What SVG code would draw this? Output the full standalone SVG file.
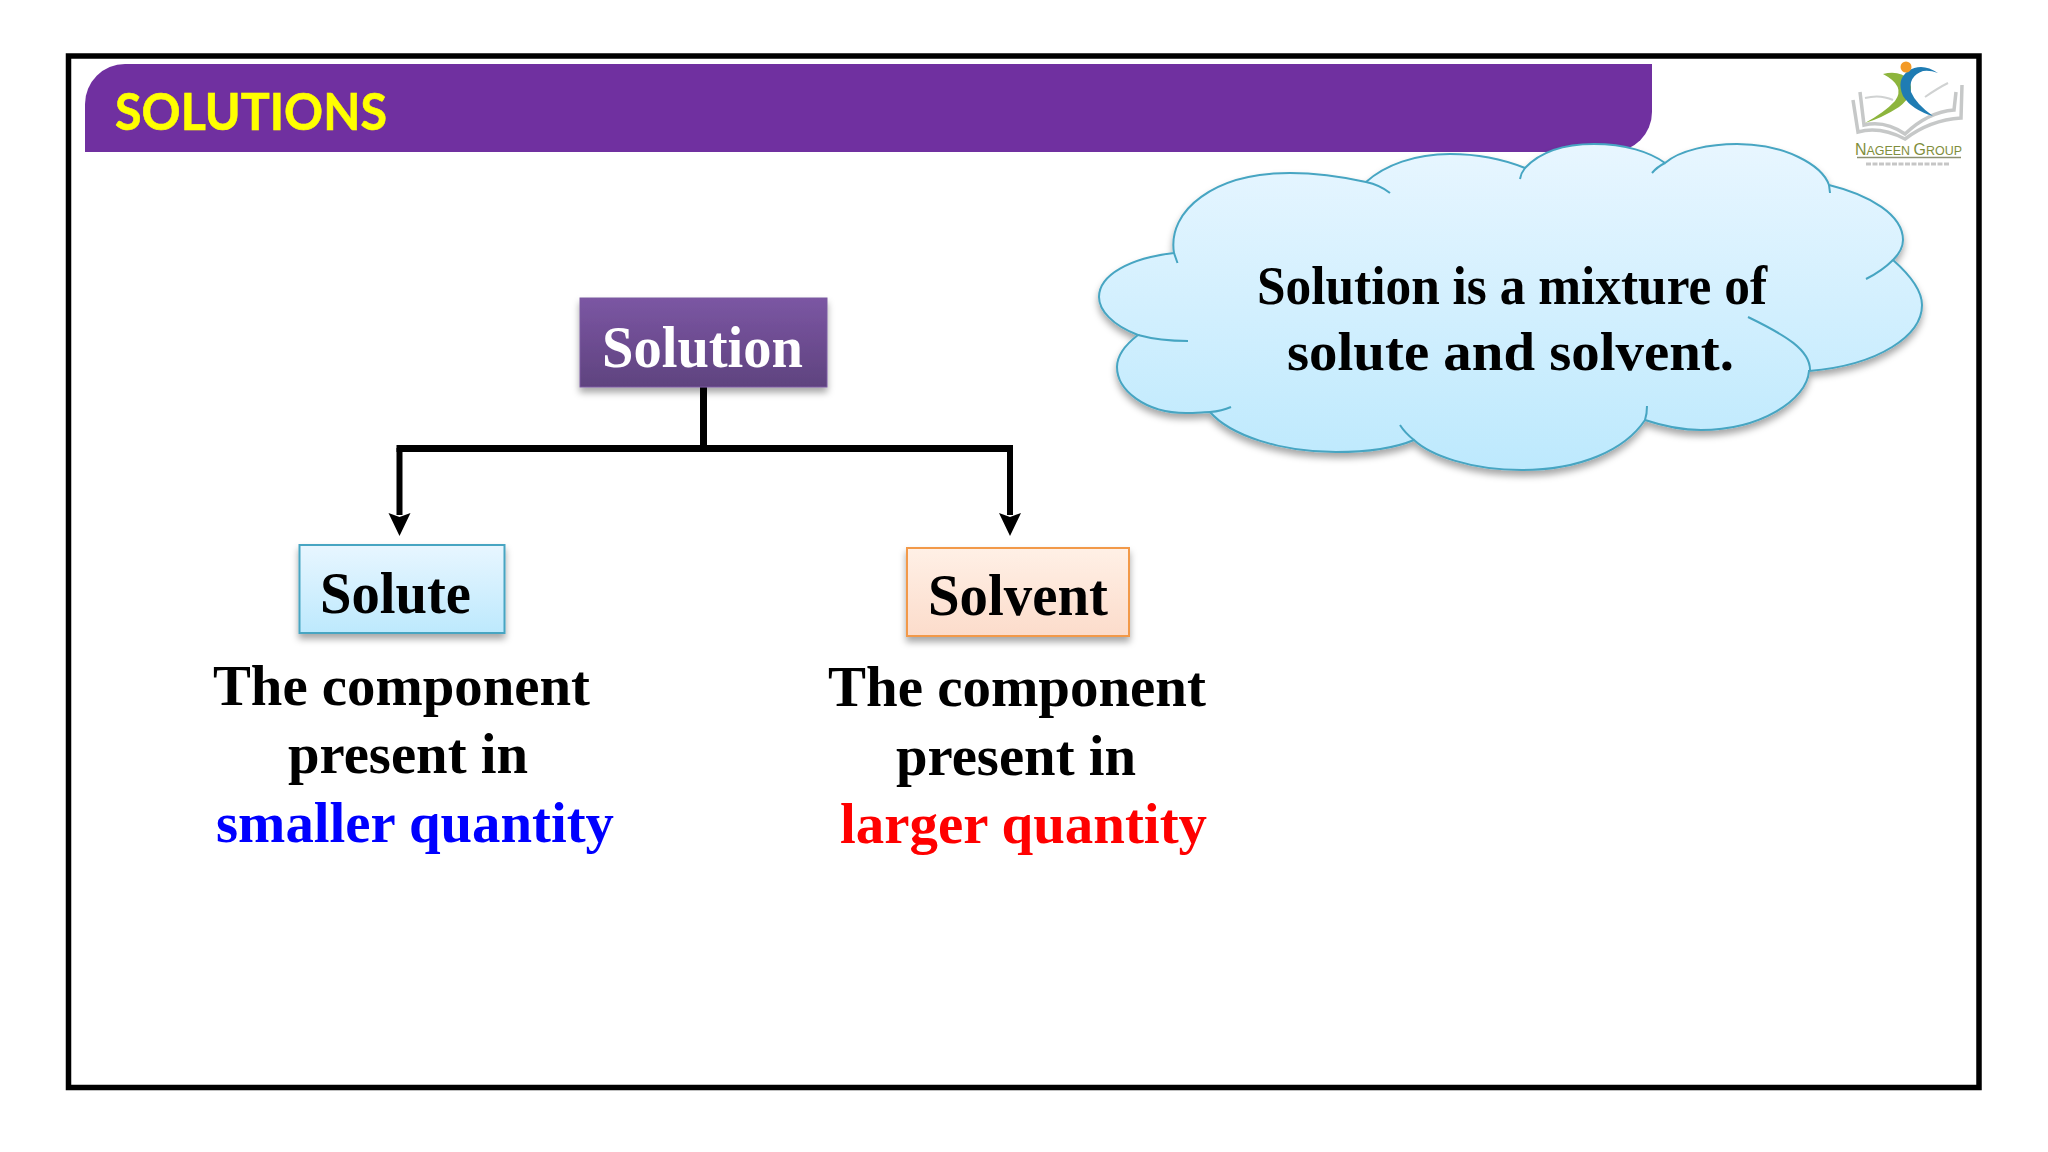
<svg xmlns="http://www.w3.org/2000/svg" width="2048" height="1152" viewBox="0 0 2048 1152">
<style>
.s{font-family:"Liberation Serif","Times New Roman",serif;font-weight:700;fill:#000}
.t{font-size:57px}
.n{font-size:59px}
.c{font-size:54px}
.conn{fill:none;stroke:#000;stroke-width:7}
.drop{fill:none;stroke:#000;stroke-width:6;marker-end:url(#ah)}
.hook{fill:none;stroke:#46a5c2;stroke-width:2}
.book{fill:none;stroke:#c6c8c8;stroke-width:3.500}
</style>
<defs>
<linearGradient id="blue" x1="0" y1="0" x2="0" y2="1"><stop offset="0" stop-color="#e8f6ff"/><stop offset="1" stop-color="#bde9fd"/></linearGradient>
<linearGradient id="peach" x1="0" y1="0" x2="0" y2="1"><stop offset="0" stop-color="#fff0e6"/><stop offset="1" stop-color="#fcdccb"/></linearGradient>
<linearGradient id="purple" x1="0" y1="0" x2="0" y2="1"><stop offset="0" stop-color="#7b56a3"/><stop offset="1" stop-color="#5f437f"/></linearGradient>
<filter id="sh" x="-10%" y="-10%" width="120%" height="130%"><feDropShadow dx="0" dy="5" stdDeviation="3.500" flood-color="#000" flood-opacity=".35"/></filter>
<marker id="ah" markerUnits="userSpaceOnUse" markerWidth="24" markerHeight="24" refX="2" refY="11" orient="auto" viewBox="0 0 24 22"><path d="M0 0L4 11L0 22L23 11Z" fill="#000"/></marker>
</defs>
<rect width="2048" height="1152" fill="#fff"/>
<rect id="frame" x="68.500" y="56" width="1910.500" height="1031.500" fill="none" stroke="#000" stroke-width="5.500"/>
<g id="banner">
<path d="M85 152V104A40 40 0 0 1 125 64H1652V112A40 40 0 0 1 1612 152Z" fill="#7030a0"/>
<text x="115" y="130" font-family="Lato,Carlito,sans-serif" font-weight="700" font-size="51" fill="#ff0" stroke="#ff0" stroke-width=".6" textLength="272" lengthAdjust="spacingAndGlyphs">SOLUTIONS</text>
</g>
<g id="logo">
<path class="book" d="M1853 100L1858 132Q1880 126 1905 139Q1930 120 1961 118L1962 85"/>
<path class="book" d="M1860 92L1864 125Q1885 120 1905 134Q1928 112 1954 110L1956 92"/>
<path d="M1865 98Q1880 94 1893 100M1925 97Q1938 88 1948 83" fill="none" stroke="#d0d2d2" stroke-width="2"/>
<path d="M1883 74Q1900 70 1909 80Q1916 94 1899 107Q1882 118 1865 123Q1885 112 1895 101Q1906 86 1883 74Z" fill="#8db53d"/>
<path d="M1938 73Q1922 62 1908 71Q1896 80 1903 96Q1912 110 1933 116Q1916 104 1911 92Q1908 76 1923 71Q1930 70 1938 73Z" fill="#1f7cb3"/>
<circle cx="1906" cy="67" r="5.500" fill="#f39a26"/>
<text x="1855" y="155" font-family="'Liberation Sans',Arial,sans-serif" fill="#7f8e3c" font-size="16" textLength="107" lengthAdjust="spacingAndGlyphs">N<tspan font-size="12.500">AGEEN </tspan>G<tspan font-size="12.500">ROUP</tspan></text>
<path d="M1857 157.500H1961" stroke="#8b8f70" stroke-width="1.500"/>
<path d="M1866 164H1949" stroke="#a9a9a9" stroke-width="3" stroke-dasharray="5 1.500" opacity=".65"/>
</g>
<g id="cloud">
<path filter="url(#sh)" fill="url(#blue)" stroke="#46a5c2" stroke-width="2" d="M1174 253C1167 210 1215 173 1290 173C1320 173 1348 178 1366 182C1385 165 1415 154 1450 154C1480 154 1505 160 1525 168C1540 152 1565 144 1594 144C1625 144 1650 152 1665 163C1680 150 1710 144 1737 144C1785 144 1822 165 1829 185C1870 195 1903 215 1903 240C1903 248 1899 254 1893 260C1910 275 1922 290 1922 305C1922 335 1880 365 1809 371C1807 400 1760 430 1701 430C1680 430 1660 425 1645 420C1625 450 1580 470 1522 470C1470 470 1430 455 1414 440C1395 448 1365 452 1336 452C1280 452 1230 435 1210 412C1205 412 1195 413 1186 413C1145 413 1117 390 1117 367C1117 355 1125 345 1138 335C1112 325 1099 310 1099 297C1099 275 1130 258 1174 253Z"/>
<path class="hook" d="M1174 253L1177.500 263M1138 335Q1160 341 1188 341M1210 412Q1222 411 1231 407M1366 182Q1380 185 1390 193M1525 168Q1521 173 1520 179M1665 163Q1657 167 1652 173M1829 185L1830 193M1893 260Q1882 271 1866 279M1810 371C1811 350 1785 335 1748 317M1645 420Q1647 414 1647 406M1414 440Q1405 433 1400 425"/>
<text class="s c" x="1257" y="304" textLength="510" lengthAdjust="spacingAndGlyphs">Solution is a mixture of</text>
<text class="s c" x="1287" y="370" textLength="447" lengthAdjust="spacingAndGlyphs">solute and solvent.</text>
</g>
<g id="connectors">
<path class="conn" d="M703.500 384V448M396.500 448.500H1013"/>
<path class="drop" d="M399.500 448V515"/>
<path class="drop" d="M1010 448V515"/>
</g>
<g id="solution">
<rect x="580" y="298" width="247" height="89" fill="url(#purple)" stroke="#7b5ba0" filter="url(#sh)"/>
<text class="s n" x="602" y="367" style="fill:#fff" textLength="201" lengthAdjust="spacingAndGlyphs">Solution</text>
</g>
<g id="solute">
<rect x="299.500" y="545" width="205" height="88" fill="url(#blue)" stroke="#46a5c2" stroke-width="2" filter="url(#sh)"/>
<text class="s n" x="320" y="613" textLength="151" lengthAdjust="spacingAndGlyphs">Solute</text>
<text class="s t" x="213" y="705" textLength="377" lengthAdjust="spacingAndGlyphs">The component</text>
<text class="s t" x="288" y="773" textLength="240" lengthAdjust="spacingAndGlyphs">present in</text>
<text class="s t" x="216" y="842" style="fill:#0000ff" textLength="398" lengthAdjust="spacingAndGlyphs">smaller quantity</text>
</g>
<g id="solvent">
<rect x="907" y="548" width="222" height="88" fill="url(#peach)" stroke="#f2994a" stroke-width="2" filter="url(#sh)"/>
<text class="s n" x="928" y="615" textLength="180" lengthAdjust="spacingAndGlyphs">Solvent</text>
<text class="s t" x="828" y="706" textLength="378" lengthAdjust="spacingAndGlyphs">The component</text>
<text class="s t" x="896" y="775" textLength="240" lengthAdjust="spacingAndGlyphs">present in</text>
<text class="s t" x="840" y="843" style="fill:#ff0000" textLength="367" lengthAdjust="spacingAndGlyphs">larger quantity</text>
</g>
</svg>
